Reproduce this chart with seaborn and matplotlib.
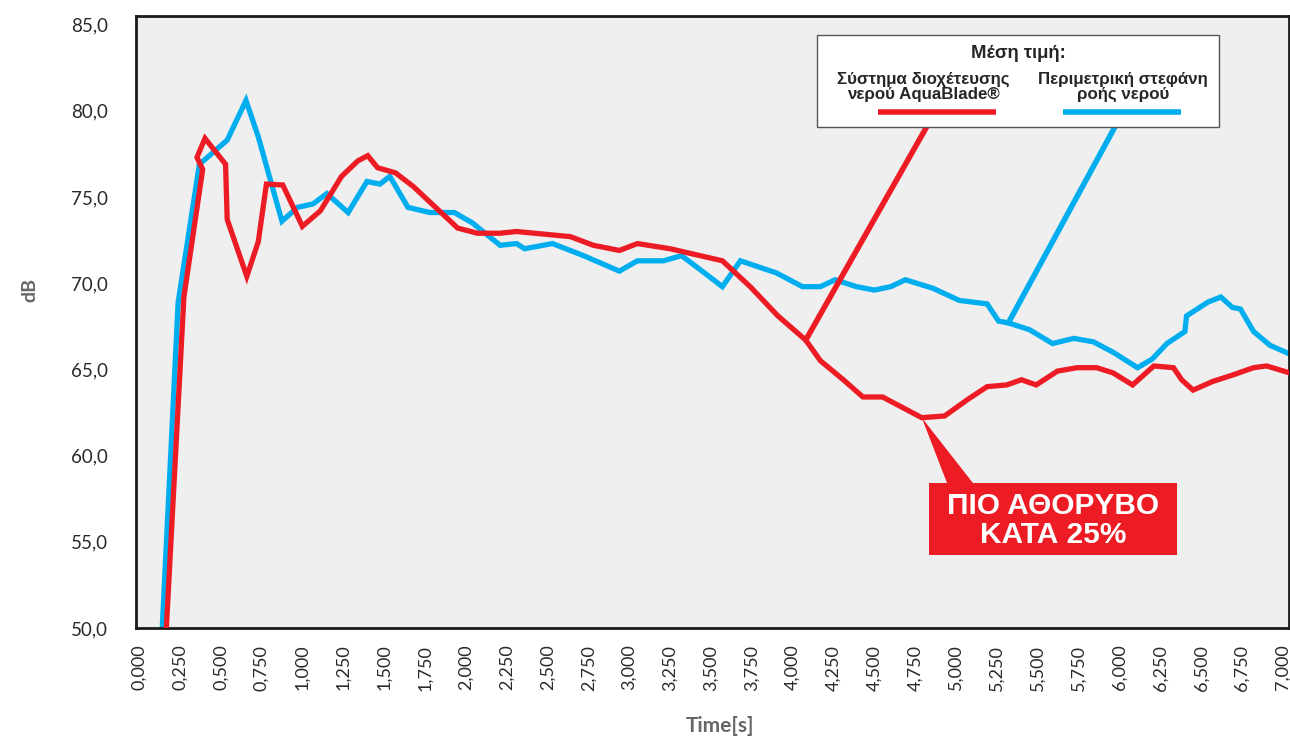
import matplotlib
matplotlib.use("Agg")
import matplotlib.pyplot as plt
import seaborn as sns
import pandas as pd
from matplotlib.patches import Rectangle, Polygon
from matplotlib.ticker import FuncFormatter, MultipleLocator

# ---- data ----
blue_name = "Περιμετρική στεφάνη\nροής νερού"
red_name = "Σύστημα διοχέτευσης\nνερού AquaBlade®"

blue_t = [0.14, 0.24, 0.37, 0.54, 0.655, 0.73, 0.875, 0.97, 1.065, 1.15,
          1.28, 1.395, 1.475, 1.535, 1.646, 1.78, 1.93, 2.04, 2.21, 2.31,
          2.36, 2.53, 2.72, 2.94, 3.05, 3.21, 3.32, 3.46, 3.57, 3.68,
          3.90, 3.98, 4.06, 4.17, 4.26, 4.39, 4.50, 4.60, 4.69, 4.86,
          5.02, 5.19, 5.26, 5.32, 5.45, 5.59, 5.72, 5.84, 5.96, 6.11,
          6.20, 6.29, 6.40, 6.41, 6.54, 6.62, 6.69, 6.74, 6.82, 6.92, 7.04]
blue_v = [49.5, 68.9, 76.9, 78.3, 80.6, 78.5, 73.6, 74.4, 74.6, 75.2,
          74.1, 75.9, 75.75, 76.2, 74.4, 74.1, 74.1, 73.5, 72.2, 72.3,
          72.0, 72.3, 71.6, 70.7, 71.3, 71.3, 71.6, 70.6, 69.8, 71.3,
          70.6, 70.2, 69.8, 69.8, 70.2, 69.8, 69.6, 69.8, 70.2, 69.7,
          69.0, 68.8, 67.8, 67.7, 67.3, 66.5, 66.8, 66.6, 66.0, 65.1,
          65.6, 66.5, 67.2, 68.1, 68.9, 69.2, 68.6, 68.5, 67.2, 66.4, 65.9]

red_t = [0.165, 0.275, 0.39, 0.355, 0.404, 0.53, 0.54, 0.66, 0.73, 0.78,
         0.88, 1.0, 1.11, 1.24, 1.34, 1.40, 1.46, 1.57, 1.68, 1.95,
         2.07, 2.21, 2.31, 2.64, 2.78, 2.94, 3.05, 3.25, 3.57, 3.74,
         3.91, 4.08, 4.17, 4.31, 4.43, 4.55, 4.71, 4.79, 4.93, 5.07,
         5.19, 5.31, 5.40, 5.49, 5.62, 5.74, 5.86, 5.96, 6.08, 6.21,
         6.33, 6.38, 6.45, 6.57, 6.70, 6.82, 6.90, 7.04]
red_v = [49.5, 69.2, 76.6, 77.3, 78.4, 76.9, 73.7, 70.4, 72.4, 75.75,
         75.7, 73.3, 74.2, 76.2, 77.1, 77.4, 76.7, 76.4, 75.6, 73.2,
         72.9, 72.9, 73.0, 72.7, 72.2, 71.9, 72.3, 72.0, 71.3, 69.8,
         68.1, 66.7, 65.5, 64.4, 63.4, 63.4, 62.6, 62.2, 62.3, 63.25,
         64.0, 64.1, 64.4, 64.1, 64.9, 65.1, 65.1, 64.8, 64.1, 65.2,
         65.1, 64.4, 63.8, 64.3, 64.7, 65.1, 65.2, 64.8]

legend_title = "Μέση τιμή:"
callout_text = "ΠΙΟ ΑΘΟΡΥΒΟ\nΚΑΤΑ 25%"
x_label = "Time[s]"
y_label = "dB"

RED = "#ED1C24"
BLUE = "#00AEEF"

df = pd.concat([
    pd.DataFrame({"t": blue_t, "dB": blue_v, "series": blue_name}),
    pd.DataFrame({"t": red_t, "dB": red_v, "series": red_name}),
], ignore_index=True)

sns.set_theme(style="white")
plt.rcParams["font.family"] = ["Lato", "DejaVu Sans"]

fig = plt.figure(figsize=(12.9, 7.39), dpi=100)
ax = fig.add_axes([136/1290, 1-628/739, 1153/1290, 612/739])
ax.set_facecolor("#EFEFEF")

sns.lineplot(data=df, x="t", y="dB", hue="series", estimator=None, sort=False,
             palette={blue_name: BLUE, red_name: RED},
             hue_order=[blue_name, red_name], linewidth=3.8, legend=False, ax=ax)
for line in ax.lines:
    line.set_solid_joinstyle("miter")
ax.lines[1].set_zorder(4)

ax.set_xlim(-0.018, 7.037)
ax.set_ylim(50, 85.5)
ax.xaxis.set_major_locator(MultipleLocator(0.25))
ax.yaxis.set_major_locator(MultipleLocator(5))
ax.xaxis.set_major_formatter(FuncFormatter(lambda v, p: f"{v:.3f}".replace(".", ",")))
ax.yaxis.set_major_formatter(FuncFormatter(lambda v, p: f"{v:.1f}".replace(".", ",")))
ax.tick_params(axis="x", length=0, pad=12, labelsize=13, labelcolor="#2a2a2a", rotation=90)
ax.tick_params(axis="y", length=0, pad=20, labelsize=13.5, labelcolor="#2a2a2a")
for s in ax.spines.values():
    s.set_visible(True)
    s.set_color("#1a1a1a")
    s.set_linewidth(2)
ax.grid(False)

ax.set_xlabel(x_label, fontsize=15, fontweight="bold", color="#666666")
ax.set_ylabel(y_label, fontsize=14, fontweight="bold", color="#666666")
ax.xaxis.label.set_va("center")
ax.yaxis.label.set_va("center")
ax.xaxis.set_label_coords((720-136)/1153, -(726-628)/612)
ax.yaxis.set_label_coords(-(136-30)/1153, (628-290)/612)

# ---- legend box ----
T = ax.transAxes
ax.add_patch(Rectangle((0.5906, 0.8186), 0.3487, 0.1504, transform=T,
                       facecolor="white", edgecolor="#555555", lw=1.0, zorder=6))
lf = ["Liberation Sans", "DejaVu Sans"]
ax.text(0.765, 0.9395, legend_title, transform=T, ha="center", va="center",
        fontsize=13.3, fontweight="bold", family=lf, zorder=7)
ax.text(0.6826, 0.884, red_name, transform=T, ha="center", va="center",
        fontsize=12.2, fontweight="bold", family=lf, linespacing=1.0, zorder=7)
ax.text(0.856, 0.884, blue_name, transform=T, ha="center", va="center",
        fontsize=12.2, fontweight="bold", family=lf, linespacing=1.0, zorder=7)
ax.plot([0.6435, 0.7459], [0.843, 0.843], transform=T, color=RED, lw=4, zorder=7,
        solid_capstyle="butt")
ax.plot([0.804, 0.9063], [0.843, 0.843], transform=T, color=BLUE, lw=4, zorder=7,
        solid_capstyle="butt")

# leader lines to data points
ri = red_t.index(4.08)
bi = blue_t.index(5.32)
ax.annotate("", xy=(red_t[ri], red_v[ri]), xycoords="data", xytext=(0.693, 0.843),
            textcoords=T, arrowprops=dict(arrowstyle="-", color=RED, lw=4,
                                          shrinkA=0, shrinkB=0), zorder=5)
ax.annotate("", xy=(blue_t[bi], blue_v[bi]), xycoords="data", xytext=(0.856, 0.843),
            textcoords=T, arrowprops=dict(arrowstyle="-", color=BLUE, lw=4,
                                          shrinkA=0, shrinkB=0), zorder=5)

# ---- callout ----
ci = red_t.index(4.79)
apex = ax.transData.transform((red_t[ci], red_v[ci]))
apex_ax = T.inverted().transform(apex)
ax.add_patch(Polygon([tuple(apex_ax), (0.7034, 0.2369), (0.7259, 0.2369)], closed=True,
                     transform=T, facecolor=RED, edgecolor="none", zorder=6))
ax.add_patch(Rectangle((0.6878, 0.1193), 0.2151, 0.1176, transform=T,
                       facecolor=RED, edgecolor="none", zorder=6))
ax.text(0.7953, 0.176, callout_text, transform=T, ha="center", va="center",
        fontsize=21.5, fontweight="bold", color="white", family=lf,
        linespacing=1.05, zorder=7)

fig.savefig("out.png", dpi=100, facecolor="white")
